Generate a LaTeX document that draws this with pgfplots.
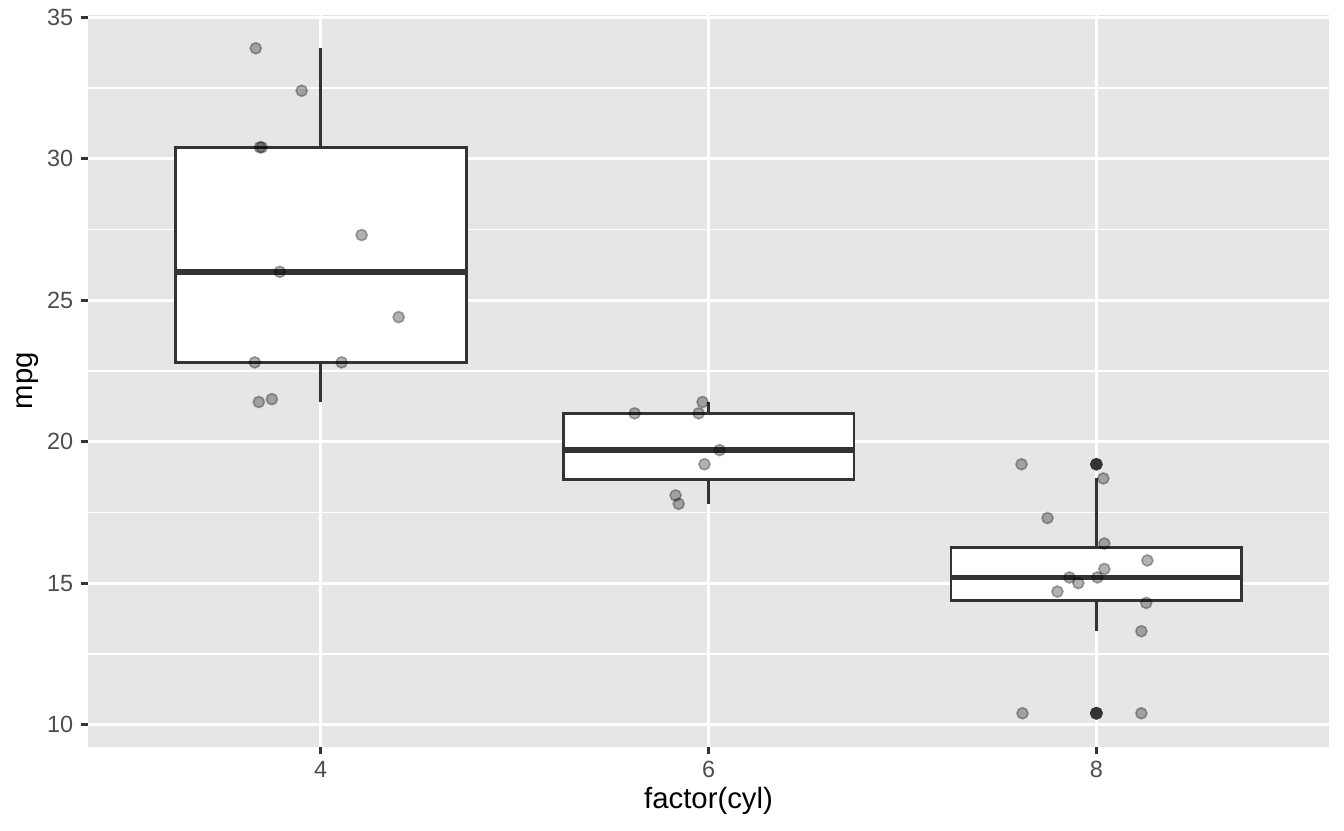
\documentclass[border=0pt]{standalone}
\usepackage{fontspec}
\setmainfont{Liberation Sans}
\usepackage{pgfplots}
\pgfplotsset{compat=1.18}
\usepgfplotslibrary{statistics}

\definecolor{panelbg}{HTML}{E6E6E6}
\definecolor{gray20}{HTML}{333333}
\definecolor{gray30}{HTML}{4D4D4D}

\begin{document}
\begin{tikzpicture}
\begin{axis}[
  scale only axis, width=465.4bp, height=274.3bp,
  xmin=2.8, xmax=9.2, ymin=9.225, ymax=35.075,
  axis background/.style={fill=panelbg},
  axis line style={draw=none},
  xtick={4,6,8}, ytick={10,15,20,25,30,35},
  minor ytick={12.5,17.5,22.5,27.5,32.5},
  grid=both,
  major grid style={white, line width=1.07bp},
  minor grid style={white, line width=0.53bp},
  xtick pos=bottom, ytick pos=left,
  tick align=outside,
  major tick length=2.74bp, minor tick length=0pt,
  tick style={gray20, line width=1.07bp},
  /pgf/number format/assume math mode=true,
  tick label style={font=\fontsize{8.8bp}{10bp}\selectfont, text=gray30},
  yticklabel style={inner xsep=0pt, xshift=-2.6bp},
  xticklabel style={inner ysep=0pt, yshift=-2.6bp},
  boxplot/draw direction=y,
  clip=false,
]
% boxes
\addplot[draw=gray20, fill=white, line width=1.07bp,
  boxplot/every median/.style={line width=2.13bp},
  boxplot prepared={draw position=4, lower whisker=21.4, lower quartile=22.8,
    median=26.0, upper quartile=30.4, upper whisker=33.9,
    box extend=1.5, whisker extend=0}] coordinates {};
\addplot[draw=gray20, fill=white, line width=1.07bp,
  boxplot/every median/.style={line width=2.13bp},
  boxplot prepared={draw position=6, lower whisker=17.8, lower quartile=18.65,
    median=19.7, upper quartile=21.0, upper whisker=21.4,
    box extend=1.5, whisker extend=0}] coordinates {};
\addplot[draw=gray20, fill=white, line width=1.07bp,
  boxplot/every median/.style={line width=2.13bp},
  boxplot prepared={draw position=8, lower whisker=13.3, lower quartile=14.4,
    median=15.2, upper quartile=16.25, upper whisker=18.7,
    box extend=1.5, whisker extend=0}] coordinates {};
% outliers
\addplot[only marks, mark=*, mark size=2.1bp,
  mark options={fill=gray20, draw=gray20, line width=0.6bp}]
  coordinates {(8,19.2) (8,10.4) (8,10.4)};
% jittered points
\addplot[only marks, mark=*, mark size=2.1bp,
  mark options={fill=black, draw=black, fill opacity=0.3, draw opacity=0.3, line width=0.6bp}]
  coordinates {
  (3.665,33.9) (3.902,32.4) (3.686,30.4) (3.696,30.4) (4.211,27.3) (3.789,26.0)
  (4.402,24.4) (3.660,22.8) (4.108,22.8) (3.681,21.4) (3.748,21.5)
  (5.619,21.0) (5.949,21.0) (5.969,21.4) (6.057,19.7) (5.979,19.2) (5.830,18.1) (5.846,17.8)
  (7.614,19.2) (7.748,17.3) (8.036,18.7) (8.041,16.4) (8.263,15.8) (8.041,15.5)
  (7.861,15.2) (8.005,15.2) (7.907,15.0) (7.799,14.7) (8.257,14.3) (8.232,13.3)
  (7.619,10.4) (8.232,10.4)
  };
\end{axis}
\node[font=\fontsize{11bp}{13bp}\selectfont] at ([yshift=-20.4bp]current axis.south) {factor(cyl)};
\node[font=\fontsize{11bp}{13bp}\selectfont, rotate=90] at ([xshift=-22.5bp]current axis.west) {mpg};
\path[use as bounding box] ([xshift=-33bp,yshift=-31.6bp]current axis.south west)
  rectangle ([xshift=5.6bp,yshift=5.4bp]current axis.north east);
\end{tikzpicture}
\end{document}
